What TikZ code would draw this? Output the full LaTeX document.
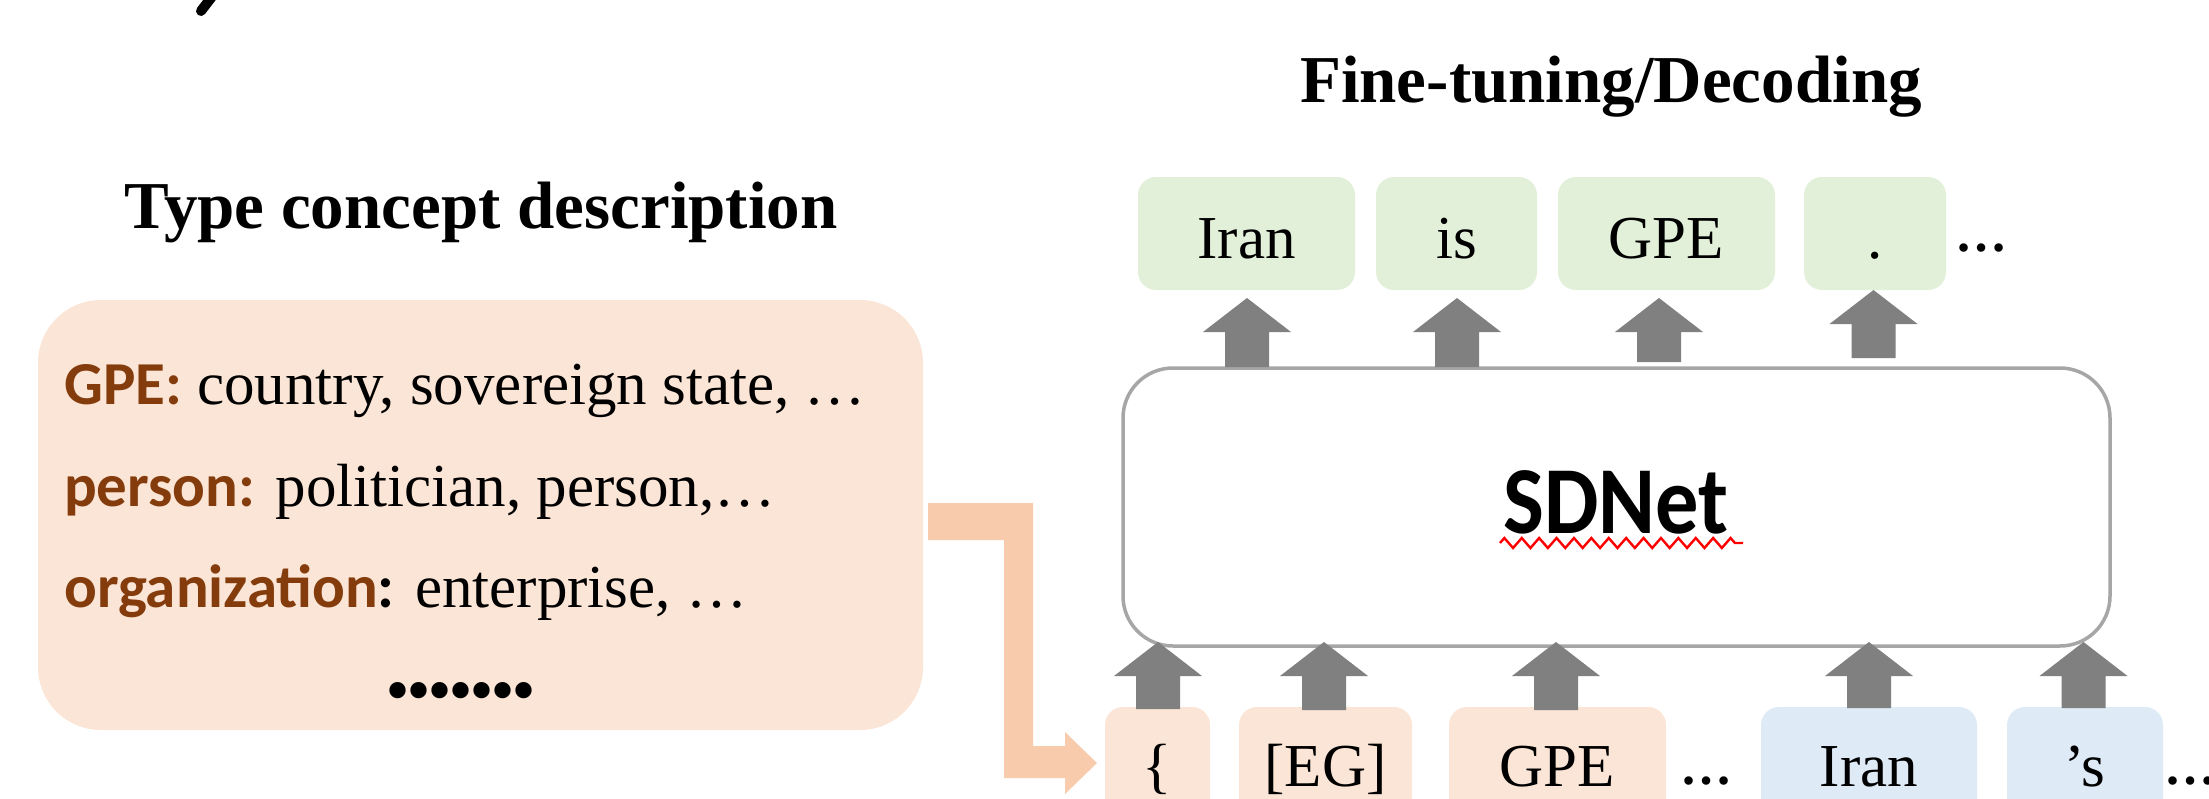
\documentclass[tikz,border=0pt]{standalone}
\usepackage{fontspec}
\usepackage{graphicx}
\setmainfont{Liberation Serif}
\newfontfamily\calfont{Carlito}
\usetikzlibrary{decorations.pathmorphing}
\definecolor{boxorange}{HTML}{FBE5D6}
\definecolor{connorange}{HTML}{F8CBAD}
\definecolor{boxgreen}{HTML}{E2F0D9}
\definecolor{boxblue}{HTML}{DEEBF7}
\definecolor{brownlab}{HTML}{843C0C}
\definecolor{arrowgray}{HTML}{808080}
\definecolor{bordergray}{HTML}{A6A6A6}
\newcommand\blockup[3]{\fill[arrowgray] ({#1-22},{#3}) -- ({#1-22},{#2+34}) -- ({#1-44},{#2+34}) -- ({#1},{#2}) -- ({#1+44},{#2+34}) -- ({#1+22},{#2+34}) -- ({#1+22},{#3}) -- cycle;}
\begin{document}
\begin{tikzpicture}[x=1pt,y=-1pt,
  titlefont/.style={font=\bfseries\fontsize{67}{67}\selectfont, inner sep=0pt, anchor=base},
  wordtop/.style={rounded corners=18pt, inner xsep=0pt, inner ysep=26pt, text height=55pt, text depth=6pt, anchor=base, fill=boxgreen, font=\fontsize{61}{61}\selectfont},
  wordbot/.style={rounded corners=18pt, inner xsep=0pt, inner ysep=24pt, text height=55pt, text depth=40pt, anchor=base, font=\fontsize{61}{61}\selectfont},
  desctext/.style={anchor=base west, inner sep=0pt, font=\fontsize{61}{61}\selectfont},
  dotsfont/.style={inner sep=0pt, anchor=base, font=\bfseries\fontsize{52}{52}\selectfont}
]
\useasboundingbox (0,0) rectangle (2209,798);
\clip (0,0) rectangle (2209,798);

% fragment at top-left
\draw[line width=10pt, line cap=round] (214,-6) -- (201,11);

% titles
\node[titlefont] (t1) at (481,228) {Type concept description};
\node[titlefont] (t2) at (1611,102) {Fine-tuning/Decoding};

% type concept description box
\node[fill=boxorange, rounded corners=63pt, minimum width=885pt, minimum height=430pt, inner sep=0pt] (desc) at (480.5,515) {};
\node[desctext] (l1) at (64,404) {{\calfont\bfseries\color{brownlab}GPE:} country, sovereign state, …};
\node[desctext] (l2) at (64,506) {{\calfont\bfseries\color{brownlab}person:} politician, person,…};
\node[desctext] (l3) at (64,607) {{\calfont\bfseries{\color{brownlab}organization}:} enterprise, …};
\node[inner sep=0pt, anchor=base, font=\bfseries\fontsize{60}{60}\selectfont] (l4) at (461,710) {•••••••};

% SDNet
\node[draw=bordergray, line width=3.5pt, rounded corners=50pt, minimum width=987pt, minimum height=278pt, inner sep=0pt] (sdnet) at (1616.5,507) {};
\node[anchor=base, inner sep=0pt, font=\calfont\bfseries\fontsize{96}{96}\selectfont] (sdtext) at (1616,533) {\scalebox{0.9}[1]{SDNet}};
\draw[red, line width=2.4pt, decorate, decoration={zigzag, segment length=17.4pt, amplitude=5pt}] (1500,543) -- (1743,543);

% output words
\node[wordtop, minimum width=217pt] (o1) at (1246.5,258) {Iran};
\node[wordtop, minimum width=161pt] (o2) at (1456.5,258) {is};
\node[wordtop, minimum width=217pt] (o3) at (1666.5,258) {GPE};
\node[wordtop, minimum width=142pt] (o4) at (1875,258) {.};
\node[dotsfont] (o5) at (1981,251) {…};

% input words
\node[wordbot, fill=boxorange, minimum width=105pt] (i1) at (1157.5,786) {\{};
\node[wordbot, fill=boxorange, minimum width=173pt] (i2) at (1325.5,786) {[EG]};
\node[wordbot, fill=boxorange, minimum width=217pt] (i3) at (1557.5,786) {GPE};
\node[dotsfont] (i4) at (1706,784) {…};
\node[wordbot, fill=boxblue, minimum width=216pt] (i5) at (1869,786) {Iran};
\node[wordbot, fill=boxblue, minimum width=156pt] (i6) at (2085,786) {’s};
\node[dotsfont] (i7) at (2190,784) {…};

% block arrows into SDNet
\blockup{1158}{642}{709}
\blockup{1324}{642}{710}
\blockup{1556}{642}{710}
\blockup{1869}{642}{708}
\blockup{2083.5}{642}{708}
% block arrows out of SDNet
\blockup{1247}{298}{367}
\blockup{1457}{298}{367}
\blockup{1659}{298}{362}
\blockup{1873.5}{290}{358}

% elbow connector from description to input
\fill[connorange] (928,503) -- (1033,503) -- (1033,746) -- (1065,746) -- (1065,732) -- (1097,763) -- (1065,794) -- (1065,778) -- (1004,778) -- (1004,540) -- (928,540) -- cycle;
\end{tikzpicture}
\end{document}
